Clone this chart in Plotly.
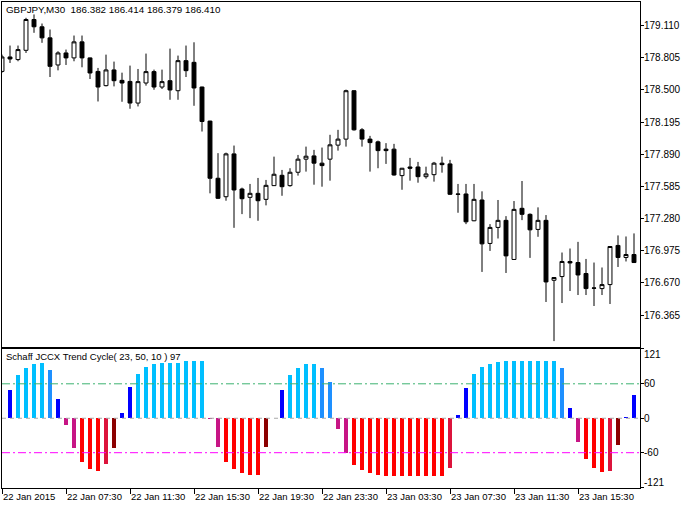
import plotly.graph_objects as go
import pandas as pd

# ---------------- data ----------------
title_main = "GBPJPY,M30  186.382 186.414 186.379 186.410"
title_ind = "Schaff JCCX Trend Cycle( 23, 50, 10 ) 97"

bar_times = pd.date_range("2015-01-22 03:30", periods=80, freq="30min")

opens = [178.675, 178.812, 178.787, 178.875, 179.167, 179.098, 178.993, 178.736, 178.850, 178.803,
         178.955, 178.803, 178.675, 178.540, 178.689, 178.590, 178.580, 178.375, 178.565, 178.673,
         178.527, 178.587, 178.492, 178.777, 178.761, 178.527, 178.204, 177.662, 177.487, 177.893,
         177.560, 177.481, 177.519, 177.462, 177.592, 177.690, 177.592, 177.719, 177.843, 177.874,
         177.805, 177.843, 177.976, 178.033, 178.492, 178.121, 178.033, 178.007, 177.938, 177.938,
         177.687, 177.769, 177.769, 177.677, 177.696, 177.805, 177.798, 177.513, 177.513, 177.259,
         177.456, 177.044, 177.196, 177.263, 176.892, 177.377, 177.320, 177.177, 177.263, 176.695,
         176.730, 176.873, 176.863, 176.759, 176.622, 176.616, 176.654, 177.025, 176.911, 176.939]
highs = [178.834, 178.920, 178.920, 179.183, 179.215, 179.129, 179.072, 178.866, 178.882, 179.015,
         179.015, 178.806, 178.708, 178.834, 178.768, 178.663, 178.730, 178.698, 178.844, 178.692,
         178.692, 178.891, 178.825, 178.920, 178.951, 178.530, 178.207, 177.900, 177.905, 177.972,
         177.573, 177.608, 177.665, 177.646, 177.867, 177.741, 177.757, 177.883, 177.962, 177.931,
         177.953, 178.074, 178.121, 178.502, 178.495, 178.137, 178.064, 178.019, 177.995, 177.988,
         177.760, 177.855, 177.817, 177.772, 177.817, 177.867, 177.836, 177.608, 177.608, 177.608,
         177.538, 177.227, 177.456, 177.303, 177.446, 177.636, 177.329, 177.386, 177.313, 176.724,
         176.958, 176.996, 177.059, 176.897, 176.863, 176.816, 177.017, 177.120, 177.110, 177.139]
lows = [178.663, 178.755, 178.771, 178.850, 179.041, 178.946, 178.622, 178.685, 178.736, 178.771,
        178.714, 178.603, 178.390, 178.533, 178.533, 178.387, 178.321, 178.343, 178.540, 178.501,
        178.508, 178.406, 178.406, 178.622, 178.349, 178.105, 177.519, 177.465, 177.449, 177.192,
        177.322, 177.284, 177.259, 177.405, 177.589, 177.496, 177.582, 177.687, 177.725, 177.601,
        177.582, 177.639, 177.924, 177.962, 178.114, 177.962, 177.725, 177.757, 177.798, 177.687,
        177.553, 177.639, 177.620, 177.658, 177.630, 177.715, 177.503, 177.335, 177.227, 177.255,
        176.774, 176.973, 177.091, 176.764, 176.889, 177.265, 176.907, 177.107, 176.489, 176.118,
        176.479, 176.593, 176.555, 176.555, 176.451, 176.555, 176.470, 176.821, 176.873, 176.861]
closes = [178.812, 178.793, 178.882, 179.167, 179.098, 178.993, 178.723, 178.850, 178.803, 178.955,
          178.803, 178.660, 178.527, 178.689, 178.587, 178.565, 178.375, 178.578, 178.673, 178.527,
          178.578, 178.499, 178.777, 178.682, 178.518, 178.200, 177.662, 177.472, 177.893, 177.551,
          177.468, 177.519, 177.449, 177.595, 177.700, 177.582, 177.719, 177.843, 177.871, 177.805,
          177.782, 177.979, 178.033, 178.492, 178.121, 178.033, 178.000, 177.924, 177.924, 177.693,
          177.757, 177.757, 177.677, 177.703, 177.805, 177.791, 177.510, 177.510, 177.249, 177.462,
          177.040, 177.196, 177.263, 176.926, 177.367, 177.320, 177.173, 177.263, 176.679, 176.721,
          176.873, 176.859, 176.745, 176.616, 176.620, 176.654, 177.015, 176.911, 176.939, 176.863]

stc_values = [None, 48.7, 74.8, 87, 94, 95.7, 83.5, 33, -12.2, -52,
              -76.5, -88.7, -92, -80, -52, 8.7, 54, 76.5, 88.7, 94,
              95.7, 95.7, 95.7, 99, 99, 99, -1, -50.4, -76.5, -88.7,
              -95.7, -99, -99, -50.4, 0, 48.7, 74.8, 87, 94, 94,
              87, 62.6, -19, -61, -81.7, -90.4, -95.7, -99, -100, -100,
              -100, -100, -100, -100, -100, -100, -87, 5.2, 52, 76.5,
              88.7, 94, 97.4, 99, 99, 99, 99, 99, 99, 99,
              87, 17.4, -41.7, -71.3, -87, -94, -92, -47, 1.7, 40]
# indicator colour buffer state per bar
stc_state = ["B", "B", "S", "S", "S", "S", "D", "B", "M", "M",
             "R", "R", "R", "C", "K", "B", "B", "S", "S", "S",
             "S", "S", "S", "S", "S", "S", "M", "M", "R", "R",
             "R", "R", "R", "K", "B", "B", "S", "S", "S", "S",
             "D", "D", "M", "M", "R", "R", "R", "R", "R", "R",
             "R", "R", "R", "R", "R", "R", "C", "B", "B", "S",
             "S", "S", "S", "S", "S", "S", "S", "S", "S", "S",
             "D", "B", "M", "R", "R", "R", "C", "K", "B", "B"]

price_ticks = [179.110, 178.805, 178.500, 178.195, 177.890, 177.585, 177.280, 176.975, 176.670, 176.365]
ind_ticks = [121, 60, 0, -60, -121]
levels = [60, 0, -60]

# ---------------- styling ----------------
state_colors = {"B": "#0000FF", "S": "#00BFFF", "D": "#1E90FF", "M": "#C71585",
                "R": "#FF0000", "C": "#DC143C", "K": "#8B0000"}
level_styles = {60: ("#3CB371", "8px,3px,2px,3px"),
                0: ("#A9A9A9", "4px,4px"),
                -60: ("#FF00FF", "8px,3px,2px,3px")}

idx = list(range(len(opens)))
tick_idx = idx[::8]
tick_text = [bar_times[i].strftime("%d %b %H:%M") for i in tick_idx]
tick_text[0] = bar_times[0].strftime("%d %b %Y")

FONT = "Liberation Sans, Arial, sans-serif"
W, H = 692, 508
ML, MR, MT, MB = 2, 52, 2, 20
top_px, bot_px = MT, H - MB


def frac(py):
    return (bot_px - py) / (bot_px - top_px)


fig = go.Figure()
fig.add_trace(go.Candlestick(
    x=idx, open=opens, high=highs, low=lows, close=closes,
    increasing=dict(fillcolor="#FFFFFF", line=dict(color="#000000", width=1)),
    decreasing=dict(fillcolor="#000000", line=dict(color="#000000", width=1)),
    whiskerwidth=0, xaxis="x", yaxis="y", showlegend=False, hoverinfo="skip"))

fig.add_trace(go.Bar(
    x=idx, y=stc_values, marker=dict(color=[state_colors[s] for s in stc_state], line=dict(width=0)),
    width=0.5, xaxis="x2", yaxis="y2", showlegend=False, hoverinfo="skip"))

for lv in levels:
    col, dash = level_styles[lv]
    fig.add_shape(type="line", xref="x2 domain", x0=0, x1=1, yref="y2", y0=lv, y1=lv,
                  line=dict(color=col, width=1, dash=dash), layer="above")

axis_common = dict(showline=True, linecolor="#000000", linewidth=1, mirror=True,
                   showgrid=False, zeroline=False, automargin=False)

fig.update_layout(
    width=W, height=H,
    margin=dict(l=ML, r=MR, t=MT, b=MB, autoexpand=False),
    paper_bgcolor="#FFFFFF", plot_bgcolor="#FFFFFF",
    font=dict(family=FONT, size=9, color="#000000"),
    xaxis=dict(domain=[0, 1], anchor="y", range=[0, 79.75], showticklabels=False, ticks="",
               rangeslider=dict(visible=False), **axis_common),
    yaxis=dict(domain=[frac(346.5), 1], anchor="x", side="right", range=[176.067, 179.333],
               tickvals=price_ticks, showticklabels=False,
               ticks="outside", ticklen=3, tickcolor="#000000", **axis_common),
    xaxis2=dict(domain=[0, 1], anchor="y2", range=[0, 79.75], matches="x",
                tickvals=tick_idx, showticklabels=False, ticks="outside", ticklen=5,
                tickcolor="#000000", rangeslider=dict(visible=False), **axis_common),
    yaxis2=dict(domain=[0, frac(348.5)], anchor="x2", side="right", range=[-121.5, 121.5],
                tickvals=ind_ticks, showticklabels=False,
                ticks="outside", ticklen=3, tickcolor="#000000", **axis_common),
    bargap=0,
)

# price axis labels
for v in price_ticks:
    fig.add_annotation(text=f"{v:.3f}", xref="paper", yref="y", x=1, y=v, xanchor="left",
                       yanchor="middle", xshift=2, showarrow=False,
                       font=dict(size=10, family=FONT, color="#000000"))
# indicator axis labels (extremes kept inside the panel as the terminal does)
for v in ind_ticks:
    yy = v * 0.925 if abs(v) > 100 else v
    fig.add_annotation(text=str(v), xref="paper", yref="y2", x=1, y=yy, xanchor="left",
                       yanchor="middle", xshift=2, showarrow=False,
                       font=dict(size=10, family=FONT, color="#000000"))
# time labels, left-aligned next to their tick
for i, t in zip(tick_idx, tick_text):
    fig.add_annotation(text=t, xref="x2", yref="paper", x=i, y=frac(489), xanchor="left",
                       yanchor="top", xshift=-1, showarrow=False,
                       font=dict(size=9.5, family=FONT, color="#000000"))

fig.add_annotation(text=title_main, xref="paper", yref="paper", x=0, y=frac(2),
                   xanchor="left", yanchor="top", xshift=2, showarrow=False,
                   font=dict(size=9.8, family=FONT, color="#000000"))
fig.add_annotation(text=title_ind, xref="paper", yref="paper", x=0, y=frac(349),
                   xanchor="left", yanchor="top", xshift=2, showarrow=False,
                   font=dict(size=9.5, family=FONT, color="#000000"))

fig.write_html("out.html", config={"displayModeBar": False, "staticPlot": True},
               post_script="document.body.style.margin='0';document.body.style.overflow='hidden';")
